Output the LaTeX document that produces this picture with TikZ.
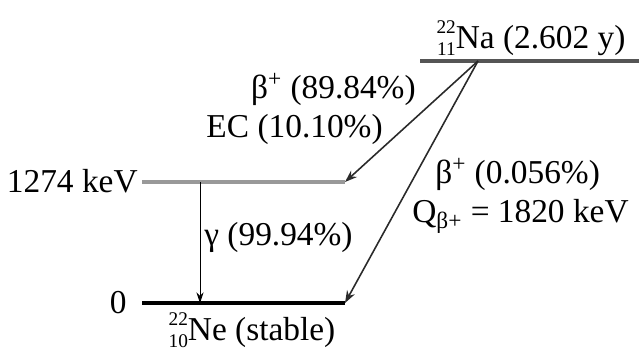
\documentclass[tikz,border=0pt]{standalone}
\usepackage{fontspec}
\setmainfont{Liberation Serif}
\usepackage{tikz}
\usetikzlibrary{arrows.meta, positioning}
\definecolor{LevelDark}{HTML}{555555}
\definecolor{LevelGray}{HTML}{999999}
\definecolor{ArrowGray}{HTML}{2A2A2A}
\newcommand{\nuclide}[3]{\raisebox{-4pt}{\fontsize{11}{12.5}\selectfont\begin{tabular}[b]{@{}r@{}}#1\\#2\end{tabular}}#3}
\tikzset{
    % Level lines
    toplevel/.style={
        draw=LevelDark,
        line width=1.8pt
    },
    midlevel/.style={
        draw=LevelGray,
        line width=1.8pt
    },
    groundlevel/.style={
        draw=black,
        line width=1.8pt
    },
    % Arrow styles
    decayarrow/.style={
        -{Stealth[length=7pt,width=5pt]},
        line width=0.9pt,
        ArrowGray
    },
    gammaarrow/.style={
        -{Stealth[length=6pt,width=4pt]},
        line width=0.5pt,
        black
    },
    % Text labels
    levellabel/.style={
        inner sep=0pt,
        font=\fontsize{19}{22}\selectfont
    }
}

\begin{document}
\begin{tikzpicture}[x=0.02cm, y=-0.02cm]
            \useasboundingbox (0,0) rectangle (639,356);

            % Level end points
            \coordinate (naleft) at (420,61);
            \coordinate (naright) at (639,61);
            \coordinate (na) at (478,61);
            \coordinate (exleft) at (142,182);
            \coordinate (exright) at (345,182);
            \coordinate (gsleft) at (142,303);
            \coordinate (gsright) at (345,303);
            \coordinate (gtop) at (200,182);
            \coordinate (gbot) at (200,303);

            % Levels
            \draw[toplevel] (naleft) -- (naright);
            \draw[midlevel] (exleft) -- (exright);
            \draw[groundlevel] (gsleft) -- (gsright);

            % Level labels
            \node[levellabel,anchor=base] (nalabel) at (531,48) {\nuclide{22}{11}{Na} (2.602 y)};
            \node[levellabel,anchor=base east] (exlabel) at (138,192) {1274 keV};
            \node[levellabel,anchor=base east] (gslabel) at (127,313) {0};
            \node[levellabel,anchor=base] (nelabel) at (252,340) {\nuclide{22}{10}{Ne} (stable)};

            % Decays
            \draw[decayarrow] (na) -- (exright);
            \draw[decayarrow] (na) -- (gsright);
            \draw[gammaarrow] (gtop) -- (gbot);

            % Branch labels
            \node[levellabel,anchor=base east] (bplus) at (416,98) {β\textsuperscript{+} (89.84\%)};
            \node[levellabel,anchor=base east] (ec) at (383,137) {EC (10.10\%)};
            \node[levellabel,anchor=base west] (gamma) at (204,245) {γ (99.94\%)};
            \node[levellabel,anchor=base west] (bplussmall) at (435,183) {β\textsuperscript{+} (0.056\%)};
            \node[levellabel,anchor=base west] (qvalue) at (412,222) {Q\textsubscript{β+} = 1820 keV};
        \end{tikzpicture}
\end{document}
